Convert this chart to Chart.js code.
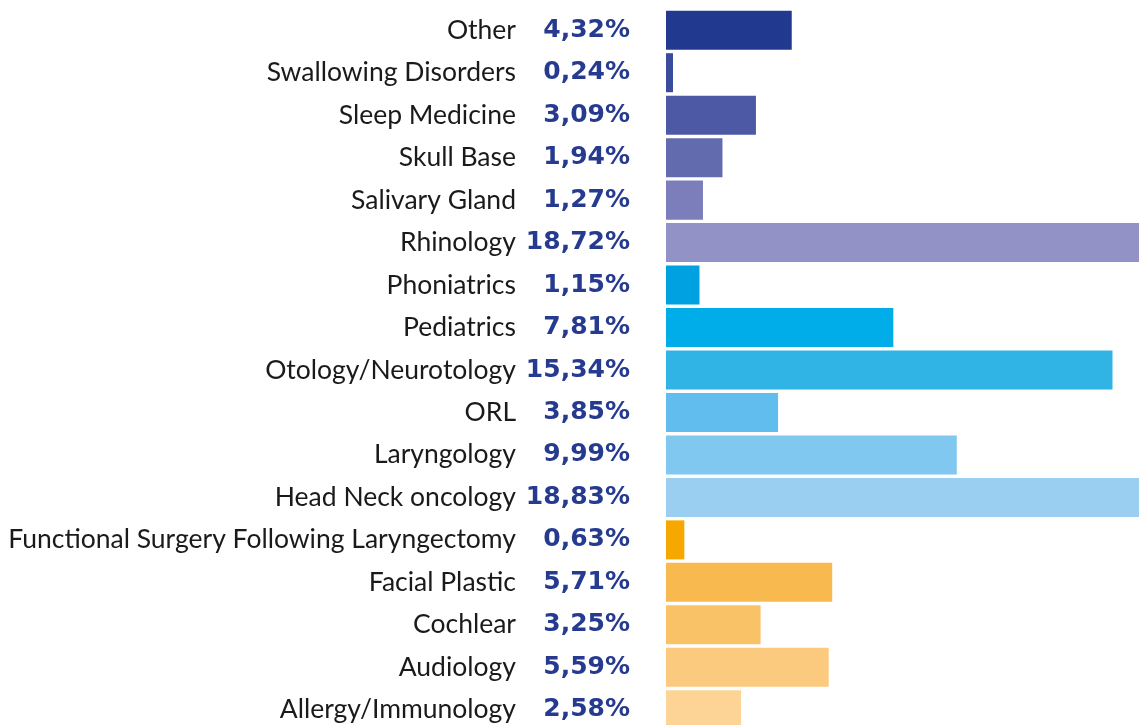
<!DOCTYPE html>
<html>
<head>
<meta charset="utf-8">
<script src="https://cdn.jsdelivr.net/npm/chart.js@4"></script>
<style>
  html, body { margin: 0; padding: 0; background: #fff; overflow: hidden; }
  #wrap { width: 1139px; height: 731px; position: relative; }
</style>
</head>
<body>
<div id="wrap"><canvas id="specialtyChart"></canvas></div>
<script>
const categories = [
  "Other", "Swallowing Disorders", "Sleep Medicine", "Skull Base", "Salivary Gland",
  "Rhinology", "Phoniatrics", "Pediatrics", "Otology/Neurotology", "ORL",
  "Laryngology", "Head Neck oncology", "Functional Surgery Following Laryngectomy",
  "Facial Plastic", "Cochlear", "Audiology", "Allergy/Immunology"
];
const shares = [4.32, 0.24, 3.09, 1.94, 1.27, 18.72, 1.15, 7.81, 15.34, 3.85, 9.99, 18.83, 0.63, 5.71, 3.25, 5.59, 2.58];
const shareLabels = shares.map(v => v.toFixed(2).replace(".", ",") + "%");
const barColors = [
  "#213a8f", "#3a4d9d", "#4d59a5", "#626bae", "#7c7ebb", "#9292c7",
  "#00a1e0", "#00ade8", "#30b4e6", "#62bdef", "#80c8ef", "#9bcff1",
  "#f6a800", "#f8b94e", "#fac266", "#fcca7e", "#fdd496"
];

// the label axes should not push the plot area inwards
function fixAxis(width) {
  return (scale) => {
    scale.width = width;
    scale.paddingTop = 0;
    scale.paddingBottom = 0;
  };
}

const chart = new Chart(document.getElementById("specialtyChart").getContext("2d"), {
  type: "bar",
  data: {
    labels: categories,
    datasets: [{
      data: shares,
      backgroundColor: barColors,
      borderWidth: 0,
      categoryPercentage: 1,
      barPercentage: 0.919,
      yAxisID: "y"
    }]
  },
  options: {
    indexAxis: "y",
    responsive: true,
    maintainAspectRatio: false,
    animation: false,
    layout: { padding: { top: 9, left: 0, right: 0, bottom: 0 } },
    plugins: {
      legend: { display: false },
      tooltip: { enabled: false }
    },
    scales: {
      x: {
        display: false,
        min: 0,
        max: 16.25
      },
      y: {
        type: "category",
        position: "left",
        weight: 1,
        grid: { display: false, drawTicks: false },
        border: { display: false },
        ticks: {
          padding: 6,
          color: "#1a1a1a",
          font: { family: "Lato, sans-serif", size: 26.5, weight: "normal" }
        },
        afterFit: fixAxis(522)
      },
      y2: {
        type: "category",
        position: "left",
        weight: 0,
        labels: shareLabels,
        grid: { display: false, drawTicks: false },
        border: { display: false },
        ticks: {
          padding: 36,
          color: "#263b8f",
          font: { family: "'DejaVu Sans', sans-serif", size: 25, weight: "bold" }
        },
        afterFit: fixAxis(144)
      }
    }
  }
});
</script>
</body>
</html>
